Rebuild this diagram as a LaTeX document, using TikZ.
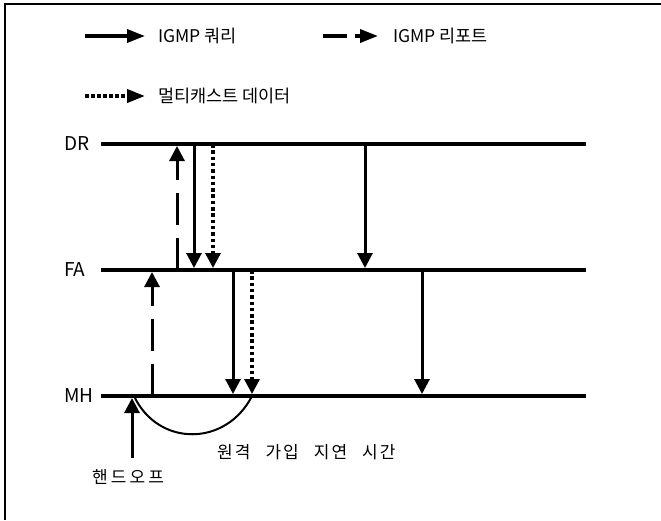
\documentclass[tikz,border=0pt]{standalone}
\usepackage{fontspec}
\setmainfont{Noto Sans CJK KR}
\newfontfamily\widekr[LetterSpace=12]{Noto Sans CJK KR}
\newfontfamily\widerkr[LetterSpace=18]{Noto Sans CJK KR}
\usetikzlibrary{arrows.meta}
\begin{document}
\begin{tikzpicture}[x=1pt,y=-1pt,
  tip/.style={-{Triangle[length=15pt,width=15pt]}},
  ltip/.style={-{Triangle[length=18pt,width=13pt]}},
  timeline/.style={line width=4pt},
  query/.style={tip,line width=3pt,shorten >=2pt},
  report/.style={tip,line width=3pt,shorten >=2pt,dash pattern=on 32pt off 13pt},
  mdata/.style={tip,line width=3.3pt,shorten >=2pt,dash pattern=on 3.5pt off 2.8pt},
  lgquery/.style={ltip,line width=3.5pt},
  lgreport/.style={ltip,line width=3.5pt,dash pattern=on 24pt off 8pt},
  lgdata/.style={ltip,line width=3.8pt,dash pattern=on 3.5pt off 2.5pt},
  lbl/.style={font=\fontsize{17.5}{20}\selectfont,inner sep=0pt},
  rowlbl/.style={font=\fontsize{19}{22}\selectfont,inner sep=0pt,anchor=west}]
\useasboundingbox (0,0) rectangle (661,520);
% frame
\draw[line width=1.6pt] (5,520) -- (5,4) -- (661,4);

% legend
\coordinate (lq1) at (85,36);  \coordinate (lq2) at (145,36);
\coordinate (lr1) at (323,36); \coordinate (lr2) at (378,36);
\coordinate (ld1) at (85,96);  \coordinate (ld2) at (145,96);
\draw[lgquery]  (lq1) -- (lq2);
\draw[lgreport] (lr1) -- (lr2);
\draw[lgdata]   (ld1) -- (ld2);
\node[lbl,anchor=west] (tq) at (158,36) {IGMP 쿼리};
\node[lbl,anchor=west] (tr) at (393,36) {IGMP 리포트};
\node[lbl,anchor=west] (td) at (158,96) {멀티캐스트 데이터};

% time lines
\node[rowlbl] (dr) at (64,144) {DR};
\node[rowlbl] (fa) at (64,270) {FA};
\node[rowlbl] (mh) at (64,396) {MH};
\coordinate (drl) at (101,144); \coordinate (drr) at (586,144);
\coordinate (fal) at (101,270); \coordinate (far) at (586,270);
\coordinate (mhl) at (101,396); \coordinate (mhr) at (586,396);
\draw[timeline] (drl) -- (drr);
\draw[timeline] (fal) -- (far);
\draw[timeline] (mhl) -- (mhr);

% message points
\foreach \x/\n in {177/a,194/b,213/c,365/d}{
  \coordinate (dr\n) at (\x,144); \coordinate (fa\n) at (\x,270);}
\foreach \x/\n in {152/e,233/f,252/g,422/h}{
  \coordinate (fa\n) at (\x,270); \coordinate (mh\n) at (\x,396);}

\draw[report] (mhe) -- (fae);
\draw[report] (faa) -- (dra);
\draw[query]  (drb) -- (fab);
\draw[mdata]  (drc) -- (fac);
\draw[query]  (faf) -- (mhf);
\draw[mdata]  (fag) -- (mhg);
\draw[query]  (drd) -- (fad);
\draw[query]  (fah) -- (mhh);

% handoff and join delay
\coordinate (ho) at (132,458);
\coordinate (hoend) at (132,396);
\coordinate (c1) at (134,396);
\draw[query] (ho) -- (hoend);
\draw[line width=2pt] (c1) .. controls (158,447) and (226,447) .. (mhg);
\node[lbl,anchor=west,font={\widekr\fontsize{17}{20}\selectfont\spaceskip=15pt\relax}] (delay) at (217,452) {원격 가입 지연 시간};
\node[lbl,anchor=west,font={\widerkr\fontsize{17}{20}\selectfont}] (hotxt) at (92,477) {핸드오프};
\end{tikzpicture}
\end{document}
